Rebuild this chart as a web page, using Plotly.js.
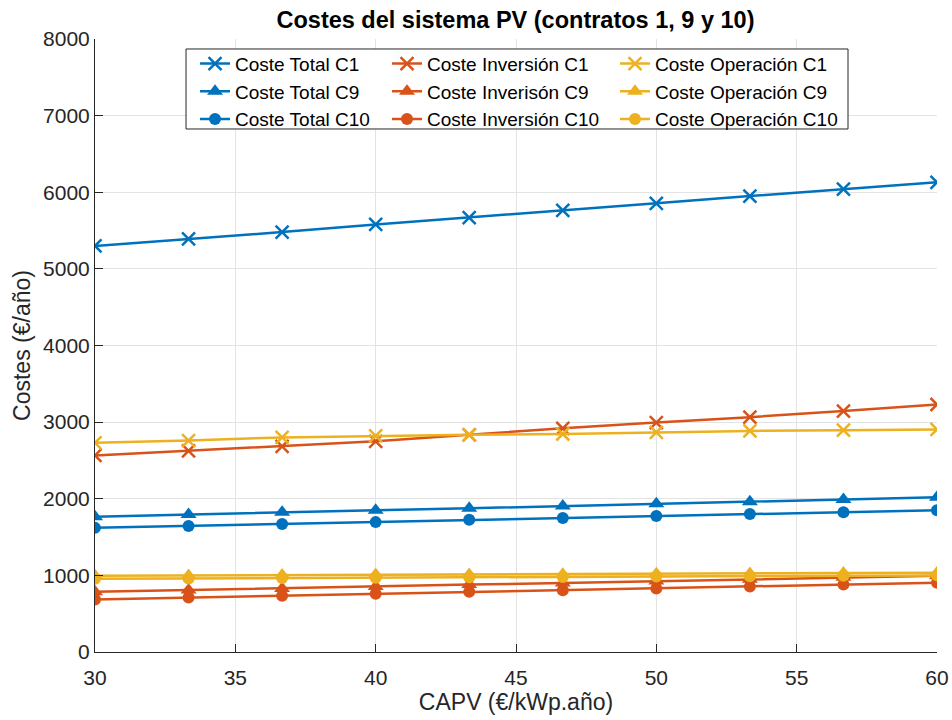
<!DOCTYPE html>
<html>
<head>
<meta charset="utf-8">
<script src="https://cdn.plot.ly/plotly-3.0.1.min.js"></script>
<style>
  html, body { margin: 0; padding: 0; background: #ffffff; }
  #chart { width: 952px; height: 720px; }
</style>
</head>
<body>
<div id="chart"></div>
<script>
// Capacity cost CAPV (€/kWp·año)
const capv = [30, 33.333, 36.667, 40, 43.333, 46.667, 50, 53.333, 56.667, 60];

// Total costs per contract (€/año)
const totalC1  = [5300, 5390, 5480, 5580, 5670, 5765, 5855, 5950, 6040, 6130];
const totalC9  = [1765, 1795, 1825, 1850, 1875, 1905, 1935, 1960, 1990, 2020];
const totalC10 = [1620, 1645, 1670, 1695, 1725, 1750, 1775, 1800, 1825, 1850];

// Investment costs per contract (€/año)
const invC1  = [2565, 2625, 2685, 2750, 2835, 2920, 2995, 3065, 3145, 3230];
const invC9  = [785, 810, 830, 855, 880, 900, 925, 950, 975, 995];
const invC10 = [685, 710, 735, 760, 785, 805, 830, 855, 880, 905];

// Operation costs per contract (€/año)
const opC1  = [2730, 2760, 2800, 2820, 2835, 2845, 2865, 2885, 2895, 2905];
const opC9  = [995, 1000, 1005, 1010, 1012, 1015, 1020, 1025, 1030, 1035];
const opC10 = [955, 960, 965, 970, 975, 980, 985, 990, 995, 1000];

const xTicks = [30, 35, 40, 45, 50, 55, 60];
const yTicks = [0, 1000, 2000, 3000, 4000, 5000, 6000, 7000, 8000];

const BLUE = '#0072BD', ORANGE = '#D95319', GOLD = '#EDB120';
const INK = '#262626';
const FONT = 'Liberation Sans, Arial, Helvetica, sans-serif';

function series(name, y, color, symbol, legendId) {
  const isCross = symbol === 'x-thin-open';
  return {
    type: 'scatter',
    mode: 'lines+markers',
    name: name,
    x: capv,
    y: y,
    legend: legendId,
    line: { color: color, width: 2.5 },
    marker: {
      symbol: symbol,
      color: color,
      size: isCross ? 13 : (symbol === 'circle' ? 12 : 14),
      line: { color: color, width: isCross ? 2.5 : 0 }
    },
    hoverinfo: 'x+y+name'
  };
}

// One legend column per cost type
const traces = [
  series('Coste Total C1',  totalC1,  BLUE, 'x-thin-open', 'legend'),
  series('Coste Total C9',  totalC9,  BLUE, 'triangle-up', 'legend'),
  series('Coste Total C10', totalC10, BLUE, 'circle',      'legend'),
  series('Coste Inversión C1',  invC1,  ORANGE, 'x-thin-open', 'legend2'),
  series('Coste Inverisón C9',  invC9,  ORANGE, 'triangle-up', 'legend2'),
  series('Coste Inversión C10', invC10, ORANGE, 'circle',      'legend2'),
  series('Coste Operación C1',  opC1,  GOLD, 'x-thin-open', 'legend3'),
  series('Coste Operación C9',  opC9,  GOLD, 'triangle-up', 'legend3'),
  series('Coste Operación C10', opC10, GOLD, 'circle',      'legend3')
];

const axisCommon = {
  showline: true,
  linecolor: INK,
  linewidth: 1,
  mirror: false,
  ticks: 'inside',
  ticklen: 8,
  tickwidth: 1,
  tickcolor: INK,
  showgrid: true,
  gridcolor: '#e3e3e3',
  gridwidth: 1,
  zeroline: false,
  tickfont: { family: FONT, size: 21, color: INK }
};

function legendColumn(x) {
  return {
    orientation: 'v',
    x: x, xanchor: 'left',
    y: 0.9907, yanchor: 'top',
    bgcolor: 'rgba(0,0,0,0)',
    borderwidth: 0,
    traceorder: 'normal',
    font: { family: FONT, size: 19, color: '#000000' }
  };
}

const layout = {
  width: 952,
  height: 720,
  margin: { l: 95, r: 15, t: 39, b: 68 },
  paper_bgcolor: '#ffffff',
  plot_bgcolor: '#ffffff',
  font: { family: FONT, color: INK },
  title: {
    text: 'Costes del sistema PV (contratos 1, 9 y 10)',
    font: { family: FONT, size: 23.5, color: '#000000', weight: 'bold' },
    x: 0.5415, xanchor: 'center',
    y: 0.972, yref: 'container', yanchor: 'middle'
  },
  xaxis: Object.assign({}, axisCommon, {
    range: [30, 60],
    tickvals: xTicks,
    ticklabelstandoff: 7,
    title: { text: 'CAPV (€/kWp.año)', font: { family: FONT, size: 23, color: INK }, standoff: 4 }
  }),
  yaxis: Object.assign({}, axisCommon, {
    range: [0, 8000],
    tickvals: yTicks,
    title: { text: 'Costes (€/año)', font: { family: FONT, size: 23, color: INK }, standoff: 6 }
  }),
  showlegend: true,
  legend: legendColumn(0.1188),
  legend2: legendColumn(0.3468),
  legend3: legendColumn(0.6176),
  // white legend box with a thin frame behind the three columns
  shapes: [{
    type: 'rect', xref: 'paper', yref: 'paper', layer: 'above',
    x0: 0.1081, x1: 0.8943, y0: 0.8532, y1: 0.9837,
    fillcolor: '#ffffff',
    line: { color: INK, width: 1 }
  }],
  hovermode: 'closest'
};

Plotly.newPlot('chart', traces, layout, { displayModeBar: false });
</script>
</body>
</html>
